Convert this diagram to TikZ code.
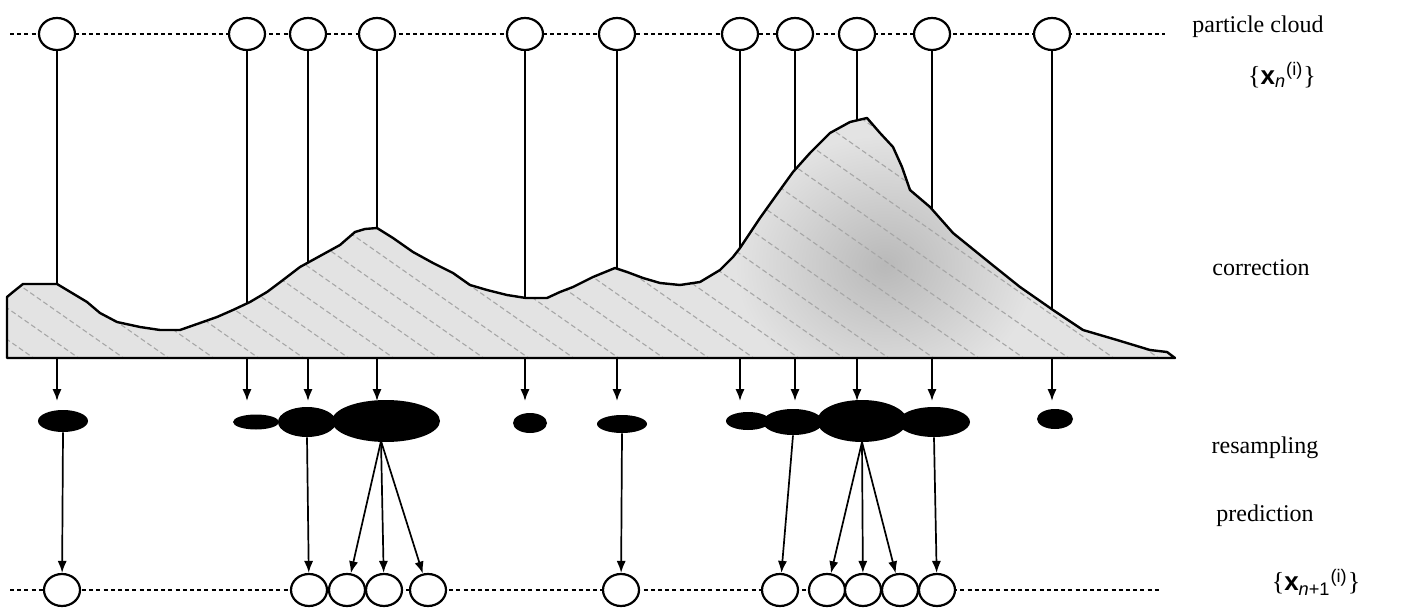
\documentclass[tikz,border=0pt]{standalone}
\usepackage{fontspec}
\setmainfont{Liberation Serif}
\newfontfamily\lsans{Liberation Sans}
\usepackage{amsmath}
\usetikzlibrary{shapes.geometric,arrows.meta}

\begin{document}
\begin{tikzpicture}[x=0.5pt,y=-0.5pt,
  particle/.style={ellipse,draw,line width=1.1pt,fill=white,inner sep=0pt,
                   minimum width=18pt,minimum height=16pt},
  blob/.style={ellipse,fill=black,inner sep=0pt},
  cloudline/.style={line width=0.7pt,dash pattern=on 2pt off 1.6pt},
  stem/.style={line width=0.85pt},
  flow/.style={line width=0.85pt,-{Latex[length=6pt,width=4.6pt]}},
  lbl/.style={font=\fontsize{12}{14}\selectfont,inner sep=0pt},
  hatch/.style={gray!70,line width=0.55pt,dash pattern=on 2.5pt off 1.5pt}
]
\useasboundingbox (0,0) rectangle (1408,609);

% particle lines
\coordinate (topL) at (10,34);   \coordinate (topR) at (1165,34);
\coordinate (botL) at (10,590);  \coordinate (botR) at (1160,590);
\draw[cloudline] (topL) -- (topR);
\draw[cloudline] (botL) -- (botR);

% particle cloud x_n
\foreach \i/\x in {1/57,2/247,3/308,4/377,5/525,6/617,7/740,8/795,9/857,10/932,11/1052}{
  \node[particle] (t\i) at (\x,34) {};
  \coordinate (b\i) at (\x,358);
  \coordinate (a\i) at (\x,401);
  \draw[stem] (t\i.south) -- (b\i);
}

% likelihood (correction)
\def\density{(7,358) -- (7,297) -- (13,292) -- (23,284) -- (57,284) -- (67,290) -- (87,302)
  -- (100,313) -- (117,322) -- (140,327) -- (160,330) -- (180,330) -- (200,323) -- (217,317)
  -- (233,310) -- (250,302) -- (267,292) -- (283,280) -- (300,267) -- (320,256) -- (340,245)
  -- (355,232) -- (365,229) -- (377,228) -- (393,238) -- (413,252) -- (433,263) -- (453,273)
  -- (470,285) -- (487,290) -- (507,295) -- (526,298) -- (547,298) -- (560,292) -- (573,287)
  -- (593,277) -- (615,268) -- (627,272) -- (643,278) -- (660,283) -- (680,285) -- (700,282)
  -- (720,270) -- (733,257) -- (740,248) -- (750,233) -- (760,218) -- (780,190) -- (793,172)
  -- (810,153) -- (830,133) -- (850,122) -- (867,118) -- (880,133) -- (893,147) -- (902,167)
  -- (910,190) -- (930,207) -- (953,233) -- (990,263) -- (1020,287) -- (1053,310) -- (1083,330)
  -- (1117,340) -- (1150,350) -- (1167,352) -- (1175,358) -- cycle}
\fill[gray!22] \density;
\begin{scope}
  \clip \density;
  \shade[inner color=gray!55,outer color=gray!22] (885,265) ellipse [x radius=150,y radius=130];
  \foreach \s in {-380,-335,...,1180}
    \draw[hatch] (\s,100) -- ++(420,294);
\end{scope}
\draw[line width=1.2pt,line join=round] \density;

% weights pushed down to resampling
\foreach \i in {1,...,11}
  \draw[flow] (b\i) -- (a\i);

% resampled particles
\node[blob,minimum width=25pt,minimum height=11pt]   (r1)  at (63,421) {};
\node[blob,minimum width=23pt,minimum height=7.5pt]  (r2a) at (256,422) {};
\node[blob,minimum width=29pt,minimum height=15pt]   (r2b) at (307,422) {};
\node[blob,minimum width=54pt,minimum height=21pt]   (r2c) at (386,421) {};
\node[blob,minimum width=17pt,minimum height=10pt]   (r3)  at (530,423) {};
\node[blob,minimum width=25pt,minimum height=9pt]    (r4)  at (622,424) {};
\node[blob,minimum width=22pt,minimum height=9pt]    (r5a) at (748,421) {};
\node[blob,minimum width=30pt,minimum height=13pt]   (r5b) at (793,422) {};
\node[blob,minimum width=45pt,minimum height=21pt]   (r5c) at (862,421) {};
\node[blob,minimum width=36pt,minimum height=15pt]   (r5d) at (934,422) {};
\node[blob,minimum width=18pt,minimum height=10pt]   (r6)  at (1055,419) {};
\coordinate (f2) at (381,441);
\coordinate (f5) at (862,442);

% predicted particles x_{n+1}
\foreach \i/\x in {1/62,2/309,3/347,4/384,5/428,6/621,7/780,8/827,9/863,10/900,11/937}
  \node[particle] (u\i) at (\x,590) {};

% prediction
\draw[flow] (r1.south)  -- (u1);
\draw[flow] (r2b.south) -- (u2);
\draw[flow] (f2) -- (u3);
\draw[flow] (f2) -- (u4);
\draw[flow] (f2) -- (u5);
\draw[flow] (r4.south)  -- (u6);
\draw[flow] (r5b.south) -- (u7);
\draw[flow] (f5) -- (u8);
\draw[flow] (f5) -- (u9);
\draw[flow] (f5) -- (u10);
\draw[flow] (r5d.south) -- (u11);

% stage labels
\node[lbl] (lcloud) at (1258,27)  {particle cloud};
\node[lbl,font=\fontsize{13}{15}\selectfont] (lxn) at (1282,75)
  {\{$\text{\lsans\bfseries x}_{\text{\lsans\itshape n}}{}^{\text{\lsans(i)}}$\}};
\node[lbl] (lcorr)  at (1261,268) {correction};
\node[lbl] (lres)   at (1265,448) {resampling};
\node[lbl] (lpred)  at (1265,516) {prediction};
\node[lbl,font=\fontsize{13}{15}\selectfont] (lxn1) at (1316,582)
  {\{$\text{\lsans\bfseries x}_{\text{\lsans\itshape n\upshape+1}}{}^{\text{\lsans(i)}}$\}};
\end{tikzpicture}
\end{document}
